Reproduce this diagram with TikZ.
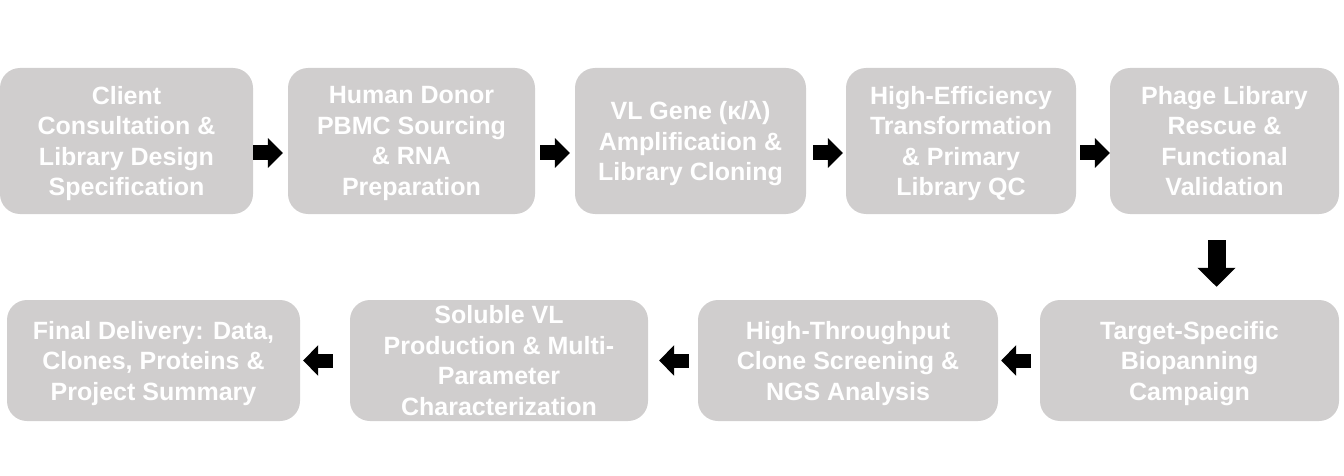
\documentclass[tikz,border=0pt]{standalone}
\usepackage{fontspec}
\setmainfont{Liberation Sans}
\usepackage{xcolor}
\usepackage{tikz}
\usetikzlibrary{arrows.meta,positioning}

\definecolor{boxgray}{HTML}{D0CECE}

\begin{document}
\begin{tikzpicture}
            [x=1pt,y=-1pt,
            step node/.style={rectangle,rounded corners=20pt,fill=boxgray,text=white,inner sep=0pt,text depth=0pt,align=center,font=\fontsize{25}{30.5}\selectfont\bfseries},
            top node/.style={step node,minimum height=146pt},
            low node/.style={step node,minimum height=121pt},
            right arrow/.style={line width=15pt,-{Triangle[length=15pt,width=29pt]}},
            left arrow/.style={line width=14pt,-{Triangle[length=15pt,width=30pt]}},
            down arrow/.style={line width=18pt,-{Triangle[length=19pt,width=37pt]}}]
            \useasboundingbox (0,0) rectangle (1344,476);
            % first row
            \node[top node, minimum width=253pt] (b1) at (126.5,141) {Client\\Consultation \&\\Library Design\\Specification};
            \node[top node, minimum width=247pt] (b2) at (411.5,141) {Human Donor\\PBMC Sourcing\\\& RNA\\Preparation};
            \node[top node, minimum width=231pt] (b3) at (690.5,141) {VL Gene (κ/λ)\\Amplification \&\\Library Cloning};
            \node[top node, minimum width=230pt] (b4) at (961,141) {High-Efficiency\\Transformation\\\& Primary\\Library QC};
            \node[top node, minimum width=229pt] (b5) at (1224.5,141) {Phage Library\\Rescue \&\\Functional\\Validation};
            % second row
            \node[low node, minimum width=299pt] (b6) at (1189.5,360.5) {Target-Specific\\Biopanning\\Campaign};
            \node[low node, minimum width=300pt] (b7) at (848,360.5) {High-Throughput\\Clone Screening \&\\NGS Analysis};
            \node[low node, minimum width=298pt] (b8) at (499,360.5) {Soluble VL\\Production \& Multi-\\Parameter\\Characterization};
            \node[low node, minimum width=293pt] (b9) at (153.5,360.5) {Final Delivery: Data,\\Clones, Proteins \&\\Project Summary};
            % arrows
            \draw[right arrow, shorten >=5pt] ([yshift=-12pt]b1.east) -- ([yshift=-12pt]b2.west);
            \draw[right arrow, shorten <=5pt, shorten >=5pt] ([yshift=-12pt]b2.east) -- ([yshift=-12pt]b3.west);
            \draw[right arrow, shorten <=7pt, shorten >=3pt] ([yshift=-12pt]b3.east) -- ([yshift=-12pt]b4.west);
            \draw[right arrow, shorten <=4pt] ([yshift=-12pt]b4.east) -- ([yshift=-12pt]b5.west);
            \draw[down arrow, shorten <=26pt, shorten >=13pt] ([xshift=-8pt]b5.south) -- ([xshift=-8pt]b5.south |- b6.north);
            \draw[left arrow, shorten <=9pt, shorten >=3pt] (b6.west) -- (b7.east);
            \draw[left arrow, shorten <=9pt, shorten >=11pt] (b7.west) -- (b8.east);
            \draw[left arrow, shorten <=17pt, shorten >=3pt] (b8.west) -- (b9.east);
            \end{tikzpicture}
\end{document}
